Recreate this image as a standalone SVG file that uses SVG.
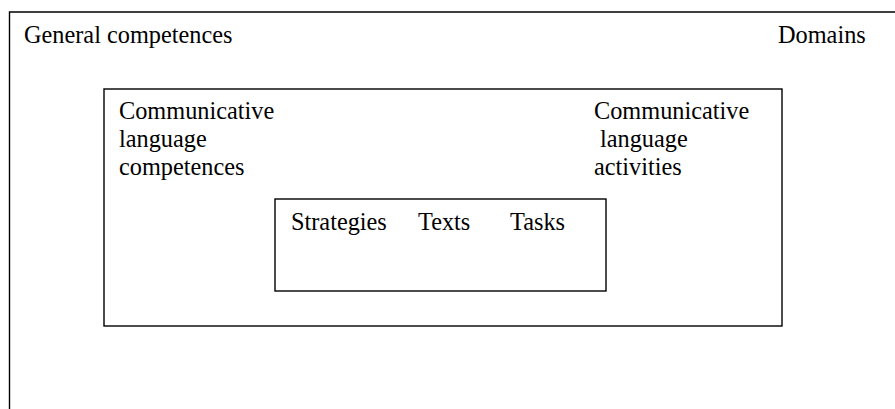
<svg xmlns="http://www.w3.org/2000/svg" width="895" height="409" viewBox="0 0 895 409">
<style>
.box{fill:none;stroke:#000;stroke-width:1.4}
text{font-family:"Liberation Serif","Times New Roman",serif;font-size:24.3px;fill:#000}
</style>
<rect width="895" height="409" fill="#fff"/>
<g id="general">
<path class="box" d="M9.5,420 V12 H900"/>
<text x="24" y="43">General competences</text>
<text x="778" y="43">Domains</text>
</g>
<g id="communicative">
<rect class="box" x="104" y="89" width="678" height="237"/>
<text x="119" y="119">Communicative</text>
<text x="119" y="147">language</text>
<text x="119" y="175">competences</text>
<text x="594" y="119">Communicative</text>
<text x="600" y="147">language</text>
<text x="594" y="175">activities</text>
</g>
<g id="core">
<rect class="box" x="275" y="199" width="331" height="92"/>
<text x="291" y="230">Strategies</text>
<text x="418" y="230">Texts</text>
<text x="510" y="230">Tasks</text>
</g>
<g id="connectors"/>
</svg>
